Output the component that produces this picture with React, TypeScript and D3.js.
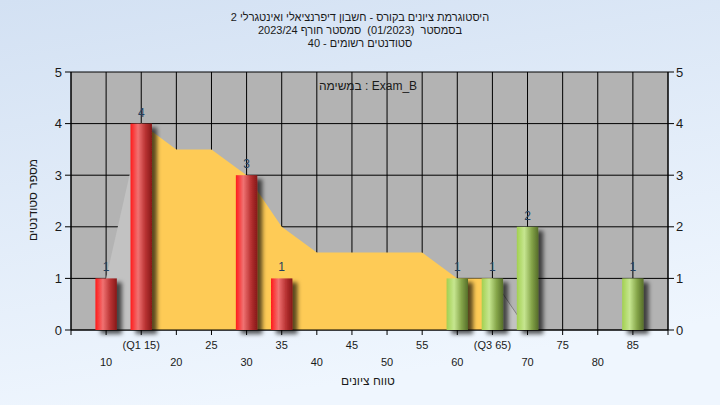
import React from "react";
import * as d3 from "d3";

// ---- data ----
const binCenters = [10, 15, 30, 35, 60, 65, 70, 85];
const counts = [1, 4, 3, 1, 1, 1, 2, 1];
const passMark = 55;

const areaX = [10, 15, 20, 25, 30, 35, 40, 45, 50, 55, 60, 65, 70];
const areaY = [1, 4, 3.5, 3.5, 3, 2, 1.5, 1.5, 1.5, 1.5, 1, 1, 0];
const q1 = 15;
const q3 = 65;

const tickRow1 = [15, 25, 35, 45, 55, 65, 75, 85];
const tickRow2 = [10, 20, 30, 40, 50, 60, 70, 80];
const gridX = d3.range(5, 91, 5);
const yTicks = [0, 1, 2, 3, 4, 5];

const titleLines = [
  "היסטוגרמת ציונים בקורס - חשבון דיפרנציאלי ואינטגרלי 2",
  "בסמסטר  (01/2023)  סמסטר חורף 2023/24",
  "סטודנטים רשומים - 40",
];
const subTitle = "במשימה : Exam_B";
const xTitle = "טווח ציונים";
const yTitle = "מספר סטודנטים";

const W = 720;
const H = 405;
const L = 71, R = 668, T = 72, B = 330;
const font = "'Liberation Sans', Arial, sans-serif";

export default function App() {
  const x = d3.scaleLinear().domain([5, 90]).range([L, R]);
  const y = d3.scaleLinear().domain([0, 5]).range([B, T]);
  const barW = x(3.05) - x(0);

  const pts = areaX.map((v, i) => ({ x: v, y: areaY[i] }));
  const area = d3
    .area<{ x: number; y: number }>()
    .x((d) => x(d.x))
    .y0(y(0))
    .y1((d) => y(d.y));
  const line = d3
    .line<{ x: number; y: number }>()
    .x((d) => x(d.x))
    .y((d) => y(d.y));
  const mid = pts.filter((p) => p.x >= q1 && p.x <= q3);
  const left = pts.filter((p) => p.x <= q1);
  const right = pts.filter((p) => p.x >= q3);

  const labelFor = (v: number) =>
    v === q1 ? `(Q1 ${v})` : v === q3 ? `(Q3 ${v})` : `${v}`;

  return (
    <div style={{ position: "fixed", left: 0, top: 0, width: W, height: H }}>
      <svg width={W} height={H} style={{ display: "block" }} fontFamily={font}>
        <defs>
          <linearGradient id="bg" x1="0" y1="0" x2="0.3" y2="1">
            <stop offset="0" stopColor="#d3e1f3" />
            <stop offset="1" stopColor="#eff6fe" />
          </linearGradient>
          <linearGradient id="red" x1="0" x2="1" y1="0" y2="0">
            <stop offset="0" stopColor="#ff1a1a" />
            <stop offset="0.35" stopColor="#f07272" />
            <stop offset="0.7" stopColor="#b83232" />
            <stop offset="1" stopColor="#861818" />
          </linearGradient>
          <linearGradient id="green" x1="0" x2="1" y1="0" y2="0">
            <stop offset="0" stopColor="#a2d050" />
            <stop offset="0.35" stopColor="#c6e690" />
            <stop offset="0.7" stopColor="#84a448" />
            <stop offset="1" stopColor="#566e2a" />
          </linearGradient>
          <filter id="shadow" x="-30%" y="-10%" width="180%" height="130%">
            <feDropShadow dx="5" dy="4" stdDeviation="2.2" floodColor="#000" floodOpacity="0.65" />
          </filter>
        </defs>
        <rect x={0} y={0} width={W} height={H} fill="url(#bg)" />

        {/* titles */}
        {titleLines.map((t, i) => (
          <text
            key={i}
            x={360}
            y={21 + i * 13}
            textAnchor="middle"
            fontSize={11}
            fill="#1a1a1a"
            direction="rtl"
            style={{ unicodeBidi: "embed", whiteSpace: "pre" }}
          >
            {t}
          </text>
        ))}

        {/* plot background */}
        <rect x={L} y={T} width={R - L} height={B - T} fill="#b3b3b3" />

        {/* grid */}
        {gridX.map((g) => (
          <line key={"gx" + g} x1={x(g)} x2={x(g)} y1={T} y2={B} stroke="#000" strokeWidth={1} />
        ))}
        {yTicks.map((t) => (
          <line key={"gy" + t} x1={L} x2={R} y1={y(t)} y2={y(t)} stroke="#000" strokeWidth={1} />
        ))}

        {/* area */}
        <path d={area(left) || ""} fill="#c2c2c2" />
        <path d={area(right) || ""} fill="#c2c2c2" />
        <path d={area(mid) || ""} fill="#fecb56" />
        <path d={line(right) || ""} fill="none" stroke="#808080" strokeWidth={1} />
        <line x1={L} x2={R} y1={B} y2={B} stroke="#000" />

        <text x={368} y={90} textAnchor="middle" fontSize={12} fill="#1a1a1a">
          {subTitle}
        </text>

        {/* bars */}
        {binCenters.map((c, i) => (
          <rect
            key={"b" + c}
            x={x(c) - barW / 2}
            y={y(counts[i])}
            width={barW}
            height={y(0) - y(counts[i])}
            fill={c < passMark ? "url(#red)" : "url(#green)"}
            filter="url(#shadow)"
          />
        ))}
        {binCenters.map((c, i) => (
          <text
            key={"l" + c}
            x={x(c)}
            y={y(counts[i]) - 7}
            textAnchor="middle"
            fontSize={12}
            fill="#24405e"
          >
            {counts[i]}
          </text>
        ))}

        {/* axes */}
        <line x1={L} x2={L} y1={T} y2={B} stroke="#000" />
        <line x1={R} x2={R} y1={T} y2={B} stroke="#000" />
        {yTicks.map((t) => (
          <g key={"yt" + t}>
            <line x1={L - 6} x2={L} y1={y(t)} y2={y(t)} stroke="#000" />
            <text x={L - 9} y={y(t) + 4.5} textAnchor="end" fontSize={13} fill="#1a1a1a">
              {t}
            </text>
            <line x1={R} x2={R + 6} y1={y(t)} y2={y(t)} stroke="#000" />
            <text x={R + 8} y={y(t) + 4.5} textAnchor="start" fontSize={13} fill="#1a1a1a">
              {t}
            </text>
          </g>
        ))}
        {gridX.map((g) => (
          <line key={"xt" + g} x1={x(g)} x2={x(g)} y1={B} y2={B + 5} stroke="#000" />
        ))}
        {tickRow1.map((v) => (
          <text key={"r1" + v} x={x(v)} y={349} textAnchor="middle" fontSize={11} fill="#1a1a1a">
            {labelFor(v)}
          </text>
        ))}
        {tickRow2.map((v) => (
          <text key={"r2" + v} x={x(v)} y={366} textAnchor="middle" fontSize={11} fill="#1a1a1a">
            {labelFor(v)}
          </text>
        ))}

        <text x={368} y={385} textAnchor="middle" fontSize={12} fill="#1a1a1a">
          {xTitle}
        </text>
        <text
          transform={`translate(37,${200}) rotate(-90)`}
          textAnchor="middle"
          fontSize={12}
          fill="#1a1a1a"
        >
          {yTitle}
        </text>
      </svg>
    </div>
  );
}
